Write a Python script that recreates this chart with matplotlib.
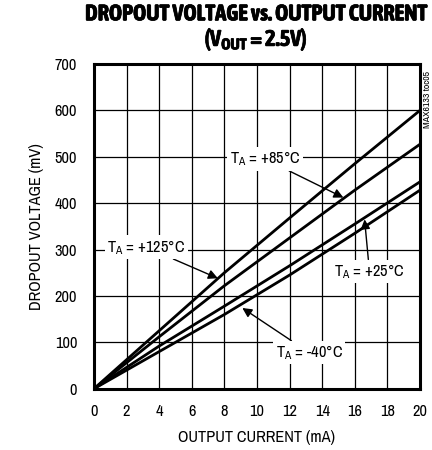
import matplotlib
matplotlib.use("Agg")
import matplotlib.pyplot as plt
from matplotlib import font_manager
import matplotlib.patheffects as pe

# pick a condensed sans if one is installed (prefer one with a bold face)
cands = {}
for f in font_manager.fontManager.ttflist:
    nm = f.name
    if ("Narrow" in nm or "Condensed" in nm) and "Mono" not in nm and "Serif" not in nm:
        w = f.weight if isinstance(f.weight, int) else 400
        cands.setdefault(nm, []).append(w)
FONT, CONDENSED = "Liberation Sans", False
BOLDFONT = "Liberation Sans"
if cands:
    CONDENSED = True
    FONT = sorted(cands)[0]
    BOLDFONT = FONT
    for nm, ws in cands.items():
        if any(w >= 600 for w in ws):
            BOLDFONT = nm
            break
plt.rcParams['font.family'] = [FONT, 'DejaVu Sans']

# Data
current_ma = [0, 4, 8, 12, 16, 20]
vd_125 = [0, 125, 250, 368, 485, 600]
vd_85 = [0, 112, 222, 325, 428, 527]
vd_25 = [0, 92, 178, 265, 355, 446]
vd_m40 = [0, 80, 160, 245, 335, 428]

x_ticks = [0, 2, 4, 6, 8, 10, 12, 14, 16, 18, 20]
y_ticks = [0, 100, 200, 300, 400, 500, 600, 700]

title1 = "DROPOUT VOLTAGE vs. OUTPUT CURRENT"
title2 = r"($\mathregular{V_{OUT}}$ = 2.5V)"
xlabel = "OUTPUT CURRENT (mA)"
ylabel = "DROPOUT VOLTAGE (mV)"
labels = [r"$\mathregular{T_A}$ = +125°C", r"$\mathregular{T_A}$ = +85°C",
          r"$\mathregular{T_A}$ = +25°C", r"$\mathregular{T_A}$ = -40°C"]

fs = 11.8 if CONDENSED else 9.5
tfs = 16.2 if CONDENSED else 11.2

fig = plt.figure(figsize=(4.32, 4.5), dpi=100)
ax = fig.add_axes([0.2176, 0.1362, 0.7546, 0.7216])

for ys in (vd_125, vd_85, vd_25, vd_m40):
    ax.plot(current_ma, ys, color='black', lw=2.0, solid_capstyle='butt', zorder=3)

ax.set_xlim(0, 20)
ax.set_ylim(0, 700)
ax.set_xticks(x_ticks)
ax.set_yticks(y_ticks)
ax.grid(True, color='black', lw=0.9)
ax.tick_params(length=0, labelsize=fs)
ax.tick_params(axis='x', pad=11)
ax.tick_params(axis='y', pad=12)
for s in ax.spines.values():
    s.set_linewidth(2.2)
    s.set_zorder(4)

ax.set_xlabel(xlabel, fontsize=fs, labelpad=8)
ax.set_ylabel(ylabel, fontsize=fs, labelpad=8)

stroke = [pe.withStroke(linewidth=0.5, foreground='black')]
fig.text(0.593, 0.968, title1, ha='center', va='center', fontsize=tfs,
         fontweight='bold', family=[BOLDFONT, 'DejaVu Sans'], path_effects=stroke)
fig.text(0.593, 0.911, title2, ha='center', va='center', fontsize=tfs,
         fontweight='bold', family=[BOLDFONT, 'DejaVu Sans'], path_effects=stroke)

fig.text(0.99, 0.778, "MAX6133 toc05", rotation=90, ha='center', va='center', fontsize=7)

bbox = dict(boxstyle='square,pad=0.15', fc='white', ec='none')
ap = dict(arrowstyle='-|>', color='black', lw=1.0, mutation_scale=14, shrinkA=0, shrinkB=0)

ax.annotate(labels[0], xy=(7.6, 238), xytext=(0.8, 305), ha='left', va='center',
            fontsize=fs, bbox=bbox, arrowprops=ap, zorder=5)
ax.annotate(labels[1], xy=(15.3, 412), xytext=(10.5, 495), ha='center', va='center',
            fontsize=fs, bbox=bbox, arrowprops=ap, zorder=5)
ax.annotate(labels[2], xy=(16.6, 365), xytext=(16.9, 253), ha='center', va='center',
            fontsize=fs, bbox=bbox, arrowprops=ap, zorder=5)
ax.annotate(labels[3], xy=(9.1, 174), xytext=(13.2, 78), ha='center', va='center',
            fontsize=fs, bbox=bbox, arrowprops=ap, zorder=5)

fig.savefig("out.png", dpi=100)
